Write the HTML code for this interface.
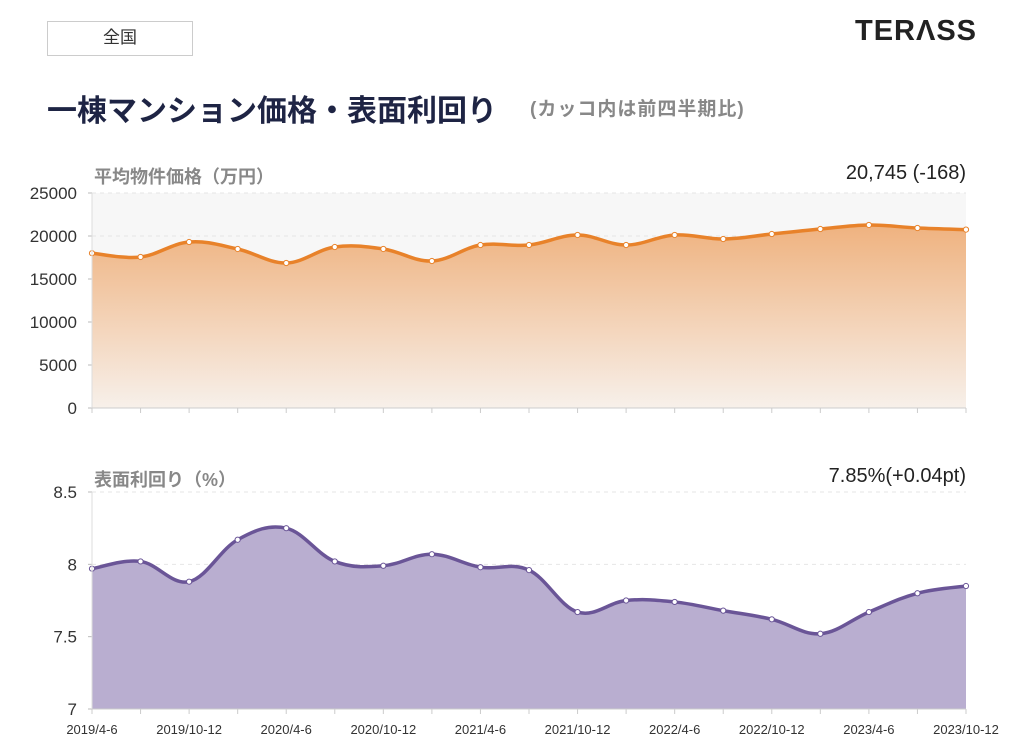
<!DOCTYPE html>
<html><head><meta charset="utf-8">
<style>
body{margin:0;width:1013px;height:754px;background:#fff;font-family:"Liberation Sans","Noto Sans CJK JP",sans-serif;overflow:hidden;position:relative}
.abs{position:absolute}
</style></head><body>
<div class="abs" style="left:47px;top:21px;width:146px;height:35px;border:1.5px solid #ccc;box-sizing:border-box;text-align:center;line-height:32px;font-size:17px;color:#333">全国</div>
<div class="abs" style="left:855px;top:15px;font-size:29px;font-weight:bold;color:#222;letter-spacing:1px">TERΛSS</div>
<div class="abs" style="left:47px;top:86px;font-size:30px;font-weight:bold;color:#1e2444;letter-spacing:0px;white-space:nowrap">一棟マンション価格・表面利回り</div>
<div class="abs" style="left:530px;top:94px;font-size:19px;font-weight:bold;color:#888;letter-spacing:1px;white-space:nowrap">(カッコ内は前四半期比)</div>
<div class="abs" style="left:94px;top:163px;font-size:18px;font-weight:bold;color:#888">平均物件価格（万円）</div>
<div class="abs" style="right:47px;top:162px;font-size:20px;color:#222">20,745 (-168)</div>
<div class="abs" style="left:94px;top:466px;font-size:18px;font-weight:bold;color:#888">表面利回り（%）</div>
<div class="abs" style="right:47px;top:465px;font-size:20px;color:#222">7.85%(+0.04pt)</div>
<svg id="svg" class="abs" style="left:0;top:0" width="1013" height="754">
<defs>
<linearGradient id="og" x1="0" y1="0" x2="0" y2="1"><stop offset="0" stop-color="#efb27f"/><stop offset="1" stop-color="#f7f0ea"/></linearGradient>
</defs>
</svg>
<script>
const categories=["2019/4-6","","2019/10-12","","2020/4-6","","2020/10-12","","2021/4-6","","2021/10-12","","2022/4-6","","2022/10-12","","2023/4-6","","2023/10-12"];
const priceValues=[18000,17560,19300,18490,16860,18720,18490,17090,18950,18950,20120,18950,20120,19650,20230,20810,21280,20930,20745];
const yieldValues=[7.97,8.02,7.88,8.17,8.25,8.02,7.99,8.07,7.98,7.96,7.67,7.75,7.74,7.68,7.62,7.52,7.67,7.80,7.85];
const priceTicks=[0,5000,10000,15000,20000,25000];
const yieldTicks=[7,7.5,8,8.5];
const svg=document.getElementById('svg');const NS="http://www.w3.org/2000/svg";
function mk(t,a,p){const e=document.createElementNS(NS,t);for(const k in a)e.setAttribute(k,a[k]);(p||svg).appendChild(e);return e;}
const X0=92,X1=966;
const xs=i=>X0+(X1-X0)*i/(categories.length-1);
function path(pts){let d="M"+pts[0][0]+","+pts[0][1];for(let i=0;i<pts.length-1;i++){const p0=pts[Math.max(0,i-1)],p1=pts[i],p2=pts[i+1],p3=pts[Math.min(pts.length-1,i+2)];const t=0.18;d+=" C"+(p1[0]+(p2[0]-p0[0])*t)+","+(p1[1]+(p2[1]-p0[1])*t)+" "+(p2[0]-(p3[0]-p1[0])*t)+","+(p2[1]-(p3[1]-p1[1])*t)+" "+p2[0]+","+p2[1];}return d;}
function chart(vals,ticks,yTop,yBot,min,max,fill,stroke,bg,name,fmt){
 const ys=v=>yBot-(v-min)/(max-min)*(yBot-yTop);
 if(bg){const r=mk('rect',{x:X0,y:yTop,width:X1-X0,height:yBot-yTop,fill:bg});}
 ticks.forEach(t=>{const y=ys(t);const g=mk('line',{x1:X0,x2:X1,y1:y,y2:y,stroke:'#e6e6e6','stroke-dasharray':'4,4'});
  const tx=mk('text',{x:77,y:y+6,'text-anchor':'end','font-size':17,fill:'#333'});tx.textContent=fmt(t);
  mk('line',{x1:X0-4,x2:X0,y1:y,y2:y,stroke:'#bbb'});});
 const pts=vals.map((v,i)=>[xs(i),ys(v)]);const d=path(pts);
 const a=mk('path',{d:d+" L"+X1+","+yBot+" L"+X0+","+yBot+" Z",fill:fill});
 const l=mk('path',{d:d,fill:'none',stroke:stroke,'stroke-width':3.5});
 pts.forEach(p=>{const c=mk('circle',{cx:p[0],cy:p[1],r:2.6,fill:'#fff',stroke:stroke,'stroke-width':1});});
 mk('line',{x1:X0,x2:X0,y1:yTop,y2:yBot,stroke:'#ddd'});mk('line',{x1:X0,x2:X1,y1:yBot,y2:yBot,stroke:'#ccc'});
 categories.forEach((c,i)=>mk('line',{x1:xs(i),x2:xs(i),y1:yBot,y2:yBot+5,stroke:'#ccc'}));
}
chart(priceValues,priceTicks,193,408,0,25000,'url(#og)','#e8822a','#f7f7f7','price',t=>t);
chart(yieldValues,yieldTicks,492,709,7,8.5,'#b9aed0','#6a5597',null,'yield',t=>t);
categories.forEach((c,i)=>{if(!c)return;const t=mk('text',{x:xs(i),y:734,'text-anchor':'middle','font-size':13,fill:'#333'});t.textContent=c;});
</script>
</body></html>
